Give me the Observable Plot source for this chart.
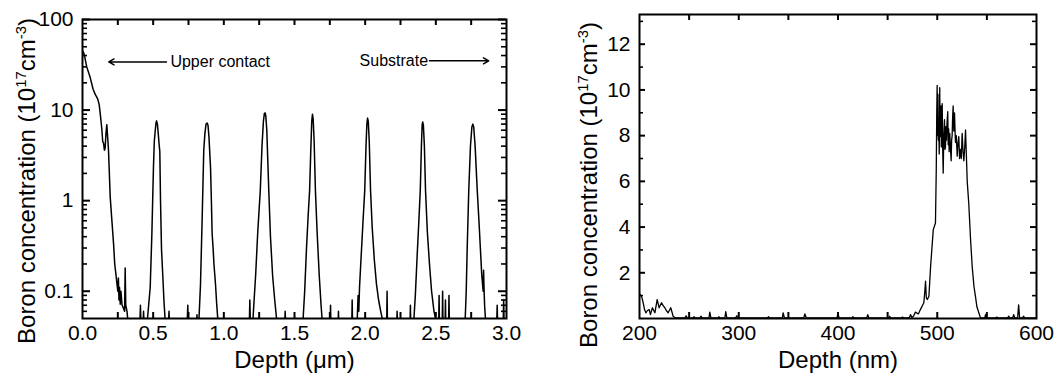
<!DOCTYPE html>
<html><head><meta charset="utf-8">
<script src="https://cdn.jsdelivr.net/npm/d3@7"></script>
<script src="https://cdn.jsdelivr.net/npm/@observablehq/plot@0.6"></script>
<style>
body{margin:0;background:#fff;}
#wrap{position:relative;width:1055px;height:381px;overflow:hidden;background:#fff;font-family:"Liberation Sans",Arial,sans-serif;color:#000;}
.ylab{position:absolute;font-size:24px;line-height:1;white-space:nowrap;transform:translate(-50%,-50%) rotate(-90deg);}
.ylab sup{font-size:0.62em;line-height:0;vertical-align:0.6em;}
</style></head><body><div id="wrap"></div>
<script>
// ---------- Left panel: multi-layer boron profile (log scale) ----------
const leftDepth = [0.000,0.008,0.014,0.030,0.054,0.075,0.090,0.100,0.108,0.118,0.125,0.137,0.143,0.149,0.155,0.160,0.166,0.172,0.178,0.184,0.190,0.196,0.208,0.220,0.228,0.236,0.244,0.250,0.254,0.258,0.262,0.267,0.272,0.280,0.290,0.298,0.302,0.306,0.315,0.322,0.340,0.405,0.410,0.414,0.428,0.432,0.436,
0.455,0.460,0.468,0.479,0.491,0.502,0.508,0.514,0.520,0.524,0.530,0.536,0.542,0.547,0.552,0.559,0.568,0.576,0.584,0.590,0.608,0.612,0.616,0.740,0.745,0.749,0.805,0.810,0.814,
0.823,0.835,0.847,0.858,0.866,0.874,0.882,0.888,0.895,0.906,0.912,0.917,0.924,0.930,0.941,0.950,0.957,0.962,1.180,1.184,1.188,
1.205,1.212,1.225,1.240,1.258,1.270,1.280,1.287,1.292,1.297,1.304,1.312,1.318,1.330,1.345,1.360,1.373,1.380,1.430,1.434,1.438,
1.555,1.561,1.572,1.585,1.597,1.607,1.615,1.622,1.627,1.632,1.639,1.648,1.660,1.675,1.688,1.695,1.700,1.752,1.755,1.758,1.808,1.811,1.814,1.905,1.908,1.911,
1.935,1.944,1.950,1.955,1.960,1.972,1.985,1.997,2.006,2.012,2.017,2.022,2.029,2.038,2.050,2.065,2.080,2.095,2.110,2.121,2.130,2.152,2.155,2.158,2.223,2.226,2.229,2.317,2.320,2.323,
2.340,2.345,2.355,2.368,2.380,2.390,2.398,2.403,2.407,2.412,2.419,2.427,2.440,2.455,2.470,2.487,2.498,2.505,2.520,2.523,2.526,2.545,2.548,2.551,2.565,2.568,2.571,2.590,2.593,2.596,
2.700,2.708,2.715,2.722,2.733,2.745,2.755,2.762,2.768,2.778,2.793,2.805,2.815,2.825,2.835,2.838,2.840,2.845,2.851,2.860,2.930,2.934,2.938,2.976,2.980,2.984,3.000];
const leftConc = [45,43,40,30,23,17,14.9,14,13.2,11.5,9.3,6.1,4.5,4.3,3.6,3.8,5.5,6.9,5.0,3.6,2.0,1.1,0.6,0.33,0.2,0.156,0.12,0.10,0.14,0.08,0.11,0.072,0.1,0.07,0.065,0.06,0.18,0.07,0.06,0.045,0.04,0.04,0.07,0.04,0.04,0.06,0.04,
0.04,0.05,0.07,0.11,0.44,2.3,4.5,5.8,7.2,7.6,7.0,5.5,4.2,3.5,1.0,0.29,0.15,0.08,0.05,0.04,0.04,0.06,0.04,0.04,0.07,0.04,0.04,0.055,0.04,
0.045,0.12,0.67,3.6,5.5,7.0,7.2,6.8,5.0,2.3,1.0,0.44,0.3,0.2,0.12,0.07,0.05,0.04,0.04,0.08,0.04,
0.045,0.07,0.15,0.45,1.3,4.0,7.5,9.2,9.3,8.6,6.0,2.5,1.3,0.4,0.15,0.08,0.05,0.04,0.04,0.06,0.04,
0.04,0.05,0.1,0.3,0.7,1.3,3.5,7.5,9.0,8.0,4.5,1.3,0.45,0.15,0.07,0.05,0.04,0.04,0.07,0.04,0.04,0.06,0.04,0.04,0.08,0.04,
0.04,0.05,0.09,0.06,0.11,0.25,0.6,1.3,4.0,7.0,8.15,7.5,4.5,1.3,0.5,0.22,0.12,0.08,0.06,0.05,0.04,0.04,0.1,0.04,0.04,0.06,0.04,0.04,0.07,0.04,
0.04,0.05,0.09,0.25,0.6,1.3,4.0,6.8,7.4,6.8,4.0,1.3,0.45,0.2,0.1,0.06,0.05,0.04,0.04,0.09,0.04,0.04,0.1,0.04,0.04,0.08,0.04,0.04,0.09,0.04,
0.04,0.05,0.1,0.3,1.3,4.0,6.5,7.0,6.5,4.0,1.3,0.6,0.3,0.15,0.1,0.17,0.12,0.07,0.05,0.04,0.04,0.07,0.04,0.04,0.08,0.04,0.04];

const leftXLabels = [0, 0.5, 1.0, 1.5, 2.0, 2.5, 3.0];
const leftXTicks = [0.25,0.5,0.75,1.0,1.25,1.5,1.75,2.0,2.25,2.5,2.75];
const leftYLabels = [0.1, 1, 10, 100];
const leftYMinor = [0.06,0.07,0.08,0.09,0.2,0.3,0.4,0.5,0.6,0.7,0.8,0.9,2,3,4,5,6,7,8,9,20,30,40,50,60,70,80,90];

const annoText = ["Upper contact", "Substrate"];
const annoTextX = [0.622, 2.445];
const annoTextY = [34, 35];
const arrowFromX = [0.594, 2.455];
const arrowToX = [0.186, 2.874];
const arrowY = [34, 35];

// ---------- Right panel: single boron layer (linear scale) ----------
const rightDepth = [200,201,202.5,203.7,205,206.4,208,209.8,211,213,215.5,217.8,219.8,222.2,224,225.5,227,228.9,231.5,233.9,236,
246,247,248,254,255,256,261,262,263,270,270.8,272,279,280,281,286,286.9,288,297,298,299,329,330,331,344,344.7,346,365.5,366.6,368,399,400,401,414,415,416,429,430,431,451,451.9,453,464,465,466,472,473,474.5,476,478,481,483,486.5,487.5,488.2,489,490,491.6,493.3,496,498.2,
499.0,499.5,499.9,500.3,500.7,501.1,501.5,502.0,502.5,502.9,503.3,503.7,504.1,504.6,505.0,505.5,506.0,506.6,507.3,507.8,508.3,508.8,509.3,509.9,510.6,511.0,511.5,512.0,512.6,513.3,514.0,514.5,515.0,515.5,516.0,516.7,517.4,518.0,518.4,519.2,520.1,520.8,521.7,522.5,523.4,524.2,525.1,526.0,526.8,527.7,528.5,529.3,530.2,
531.8,533.5,535.2,537,538.5,540,541.9,543.5,548,548.6,549.5,559,560,561,571,572,573,576,577,578,581,582,583,586,587,588,600];
const rightConc = [1.0,1.05,0.9,0.69,0.4,0.25,0.35,0.39,0.17,0.47,0.25,0.83,0.47,0.69,0.55,0.47,0.35,0.25,0.47,0.1,0.03,
0.03,0.12,0.03,0.03,0.08,0.03,0.03,0.1,0.03,0.03,0.28,0.03,0.03,0.08,0.03,0.03,0.3,0.03,0.03,0.12,0.03,0.03,0.08,0.03,0.03,0.25,0.03,0.03,0.2,0.03,0.03,0.25,0.03,0.03,0.08,0.03,0.03,0.17,0.03,0.03,0.1,0.03,0.03,0.06,0.03,0.03,0.17,0.05,0.1,0.28,0.2,0.39,0.69,1.2,1.63,0.9,0.83,0.97,2.28,3.89,4.18,
6.5,9.0,10.2,8.0,9.8,7.8,8.7,7.2,10.1,8.2,7.96,9.3,7.5,8.9,9.4,7.4,6.36,8.0,8.7,7.4,7.5,8.4,7.8,8.6,9.05,7.6,8.3,7.3,8.1,7.5,6.9,7.8,8.0,8.8,9.3,8.2,9.0,8.1,7.7,8.0,7.1,7.6,7.96,7.0,7.4,7.0,8.1,7.3,6.9,7.5,8.25,7.2,6.0,
5.0,3.5,2.28,1.4,0.97,0.5,0.25,0.03,0.03,0.17,0.03,0.03,0.06,0.03,0.03,0.1,0.03,0.03,0.17,0.03,0.03,0.6,0.03,0.03,0.1,0.03,0.03];

const rightXLabels = [200, 300, 400, 500, 600];
const rightXTicks = [250, 300, 350, 400, 450, 500, 550];
const rightYLabels = [2, 4, 6, 8, 10, 12];
const rightYMinor = [1, 3, 5, 7, 9, 11, 13];

// ---------- drawing ----------
const FONT = "Liberation Sans, Arial, Helvetica, sans-serif";
const wrap = document.getElementById("wrap");
const idx = n => d3.range(n);

function place(svg, left) {
  svg.style.position = "absolute";
  svg.style.left = left + "px";
  svg.style.top = "0px";
  wrap.appendChild(svg);
}

// inward tick marks as short rules; their far ends are found by inverting
// scales that mirror each panel's geometry (pixel tick length -> data units)
function inwardTicks(geo, xTicks, yMajor, yMinor, major, minor) {
  const {xs, ys, x0, x1, y0, y1} = geo;
  const xa = xs.range(), ya = ys.range();
  const tx = len => [xs.invert(xa[0] + len), xs.invert(xa[1] - len)];
  const ty = len => [ys.invert(ya[0] - len), ys.invert(ya[1] + len)];
  const [xMajL, xMajR] = tx(major), [xMinL, xMinR] = tx(minor);
  const [yBot, yTop] = ty(6);
  const s = {stroke: "black"};
  return [
    Plot.ruleX(xTicks, {...s, x: d => d, y1: y0, y2: yBot, strokeWidth: 2}),
    Plot.ruleX(xTicks, {...s, x: d => d, y1: y1, y2: yTop, strokeWidth: 2}),
    Plot.ruleY(yMajor, {...s, y: d => d, x1: x0, x2: xMajL, strokeWidth: 2}),
    Plot.ruleY(yMinor, {...s, y: d => d, x1: x0, x2: xMinL, strokeWidth: 1.6}),
    Plot.ruleY(yMajor, {...s, y: d => d, x1: x1, x2: xMajR, strokeWidth: 2}),
    Plot.ruleY(yMinor, {...s, y: d => d, x1: x1, x2: xMinR, strokeWidth: 1.6})
  ];
}

// Left
{
  const W = 525, H = 381, mL = 82, mR = 19, mT = 19, mB = 63;
  const xDom = [0, 3], yDom = [0.05, 100];
  const geo = {xs: d3.scaleLinear(xDom, [mL, W - mR]), ys: d3.scaleLog(yDom, [H - mB, mT]),
               x0: xDom[0], x1: xDom[1], y0: yDom[0], y1: yDom[1]};
  const p = Plot.plot({
    width: W, height: H, marginLeft: mL, marginRight: mR, marginTop: mT, marginBottom: mB,
    style: {fontFamily: FONT, background: "white", color: "black", overflow: "visible"},
    x: {domain: xDom},
    y: {type: "log", domain: yDom},
    marks: [
      Plot.line(idx(leftDepth.length), {x: i => leftDepth[i], y: i => leftConc[i], stroke: "black", strokeWidth: 1.5, clip: true}),
      ...inwardTicks(geo, leftXTicks, leftYLabels, leftYMinor, 8, 5),
      Plot.axisX({ticks: leftXLabels, tickSize: 0, tickPadding: 7, fontSize: 21, tickFormat: d => d.toFixed(1), label: null}),
      Plot.axisY({ticks: leftYLabels, tickSize: 0, tickPadding: 9, fontSize: 21, tickFormat: d => String(d), label: null}),
      Plot.frame({stroke: "black", strokeWidth: 2}),
      Plot.arrow(idx(2), {x1: i => arrowFromX[i], y1: i => arrowY[i], x2: i => arrowToX[i], y2: i => arrowY[i], stroke: "black", strokeWidth: 1.5, headLength: 6}),
      Plot.text([0], {x: i => annoTextX[i], y: i => annoTextY[i], text: i => annoText[i], textAnchor: "start", fontSize: 16, fill: "black"}),
      Plot.text([1], {x: i => annoTextX[i], y: i => annoTextY[i], text: i => annoText[i], textAnchor: "end", fontSize: 16, fill: "black"}),
      Plot.text(["Depth (\u03bcm)"], {frameAnchor: "bottom", dy: 49, fontSize: 24, fill: "black"})
    ]
  });
  place(p, 0);
}

// Right
{
  const W = 525, H = 381, mL = 109, mR = 19, mT = 14, mB = 63;
  const xDom = [200, 600], yDom = [0, 13.3];
  const geo = {xs: d3.scaleLinear(xDom, [mL, W - mR]), ys: d3.scaleLinear(yDom, [H - mB, mT]),
               x0: xDom[0], x1: xDom[1], y0: yDom[0], y1: yDom[1]};
  const p = Plot.plot({
    width: W, height: H, marginLeft: mL, marginRight: mR, marginTop: mT, marginBottom: mB,
    style: {fontFamily: FONT, background: "white", color: "black", overflow: "visible"},
    x: {domain: xDom},
    y: {domain: yDom},
    marks: [
      Plot.line(idx(rightDepth.length), {x: i => rightDepth[i], y: i => rightConc[i], stroke: "black", strokeWidth: 1.3, clip: true}),
      ...inwardTicks(geo, rightXTicks, rightYLabels, rightYMinor, 6, 4),
      Plot.axisX({ticks: rightXLabels, tickSize: 0, tickPadding: 7, fontSize: 21, label: null}),
      Plot.axisY({ticks: rightYLabels, tickSize: 0, tickPadding: 9, fontSize: 21, label: null}),
      Plot.frame({stroke: "black", strokeWidth: 2}),
      Plot.text(["Depth (nm)"], {frameAnchor: "bottom", dy: 49, fontSize: 24, fill: "black"})
    ]
  });
  place(p, 530);
}

// y-axis titles with superscripts (HTML text)
function ylab(cx, cy) {
  const d = document.createElement("div");
  d.className = "ylab";
  d.innerHTML = "Boron concentration (10<sup>17</sup>cm<sup>-3</sup>)";
  d.style.left = cx + "px";
  d.style.top = cy + "px";
  wrap.appendChild(d);
}
ylab(27, 181);
ylab(589, 185);
</script></body></html>
